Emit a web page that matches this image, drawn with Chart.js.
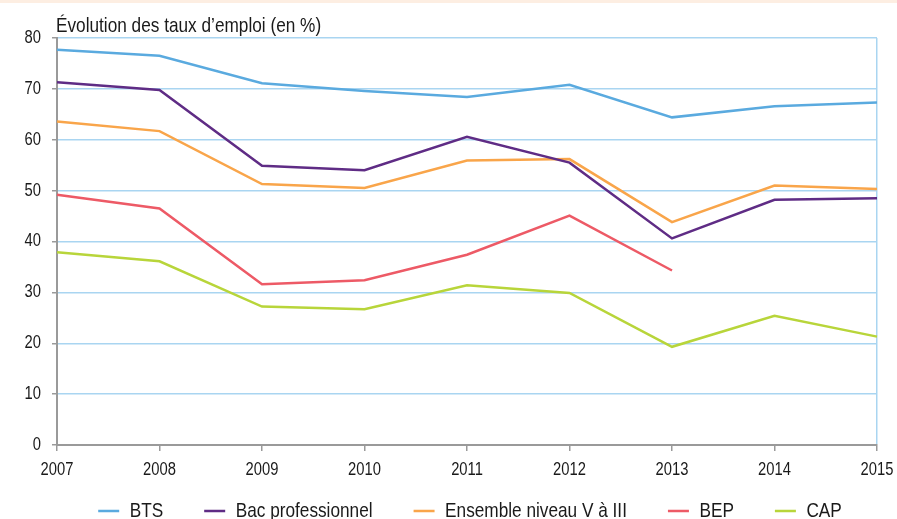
<!DOCTYPE html>
<html>
<head>
<meta charset="utf-8">
<script src="https://cdn.jsdelivr.net/npm/chart.js@4/dist/chart.umd.min.js"></script>
<style>
  html, body { margin: 0; padding: 0; background: #fff; overflow: hidden; }
  #band { position: absolute; left: 0; top: 0; width: 897px; height: 3px; background: #fdeee2; }
  #wrap { position: absolute; left: 0; top: 0; width: 897px; height: 553px; }
</style>
</head>
<body>
<div id="wrap"><canvas id="c"></canvas></div>
<div id="band"></div>
<script>
const years = ['2007','2008','2009','2010','2011','2012','2013','2014','2015'];
const bts = [77.7, 76.5, 71.1, 69.6, 68.4, 70.8, 64.4, 66.6, 67.3];
const bacPro = [71.3, 69.8, 54.9, 54.0, 60.6, 55.5, 40.6, 48.2, 48.5];
const ensemble = [63.6, 61.7, 51.3, 50.5, 55.9, 56.2, 43.8, 51.0, 50.3];
const bep = [49.2, 46.5, 31.6, 32.4, 37.4, 45.1, 34.3, null, null];
const cap = [37.9, 36.1, 27.2, 26.7, 31.4, 29.9, 19.3, 25.4, 21.3];
const seriesNames = ['BTS', 'Bac professionnel', 'Ensemble niveau V à III', 'BEP', 'CAP'];
const titleText = 'Évolution des taux d’emploi (en %)';

const FONT = "'Liberation Sans', Arial, sans-serif";
const NARROW = 0.82; // condensed look (Helvetica Narrow)
const colors = ['#5aaadf', '#5f2c85', '#f9a54a', '#ed5a66', '#b8d53a'];
const gridBlue = '#a9d5f1';
const axisGray = '#9a9a9a';
const values = [bts, bacPro, ensemble, bep, cap];

// Condense text horizontally (narrow font emulation)
const canvas = document.getElementById('c');
const c2d = canvas.getContext('2d');
const origFill = c2d.fillText.bind(c2d);
const origMeasure = c2d.measureText.bind(c2d);
c2d.fillText = function (text, x, y, maxWidth) {
  this.save();
  this.translate(x, y);
  this.scale(NARROW, 1);
  origFill(text, 0, 0);
  this.restore();
};
c2d.measureText = function (text) {
  const m = origMeasure(text);
  return {
    width: m.width * NARROW,
    actualBoundingBoxAscent: m.actualBoundingBoxAscent,
    actualBoundingBoxDescent: m.actualBoundingBoxDescent,
    actualBoundingBoxLeft: m.actualBoundingBoxLeft * NARROW,
    actualBoundingBoxRight: m.actualBoundingBoxRight * NARROW
  };
};

const titlePlugin = {
  id: 'topTitle',
  afterDraw(chart) {
    const ctx = chart.ctx;
    ctx.save();
    ctx.font = '21px ' + FONT;
    ctx.fillStyle = '#1a1a1a';
    ctx.textBaseline = 'alphabetic';
    ctx.textAlign = 'left';
    ctx.fillText(titleText, chart.chartArea.left - 1, 32);
    ctx.restore();
  }
};
const legendShift = {
  id: 'legendShift',
  afterUpdate(chart) {
    const lg = chart.legend;
    if (lg) {
      lg.left += 31.5; lg.right += 31.5;
      lg.top -= 21.5; lg.bottom -= 21.5;
      lg.adjustHitBoxes();
    }
  }
};

new Chart(canvas, {
  type: 'line',
  data: {
    labels: years,
    datasets: values.map((v, i) => ({
      label: seriesNames[i],
      data: v,
      borderColor: colors[i],
      backgroundColor: colors[i],
      borderWidth: 2.5,
      pointRadius: 0,
      tension: 0,
      fill: false,
      spanGaps: false
    }))
  },
  options: {
    responsive: true,
    maintainAspectRatio: false,
    animation: false,
    layout: { padding: { top: 38, right: 20, left: 0, bottom: 0 } },
    plugins: {
      title: { display: false },
      tooltip: { enabled: false },
      legend: {
        position: 'bottom',
        labels: {
          usePointStyle: true,
          pointStyle: 'line',
          pointStyleWidth: 21,
          padding: 41,
          color: '#1a1a1a',
          font: { family: FONT, size: 21 }
        }
      }
    },
    scales: {
      x: {
        type: 'category',
        offset: false,
        afterFit(s) { s.height = 36; s.paddingLeft = 0; s.paddingRight = 0; },
        grid: {
          offset: false,
          drawOnChartArea: true,
          color: ctx => ctx.index === years.length - 1 ? gridBlue : 'rgba(0,0,0,0)',
          lineWidth: 1.5,
          tickColor: axisGray,
          tickLength: 6,
          tickWidth: 1.5
        },
        border: { color: axisGray, width: 2 },
        ticks: { color: '#1a1a1a', padding: 8, maxRotation: 0, font: { family: FONT, size: 18 } }
      },
      y: {
        min: 0,
        max: 80,
        afterFit(s) { s.width = 57; },
        grid: {
          color: gridBlue,
          lineWidth: 1.5,
          tickColor: axisGray,
          tickLength: 5,
          tickWidth: 1.5
        },
        border: { color: axisGray, width: 2 },
        ticks: { stepSize: 10, color: '#1a1a1a', padding: 11, font: { family: FONT, size: 18 } }
      }
    }
  },
  plugins: [titlePlugin, legendShift]
});
</script>
</body>
</html>
